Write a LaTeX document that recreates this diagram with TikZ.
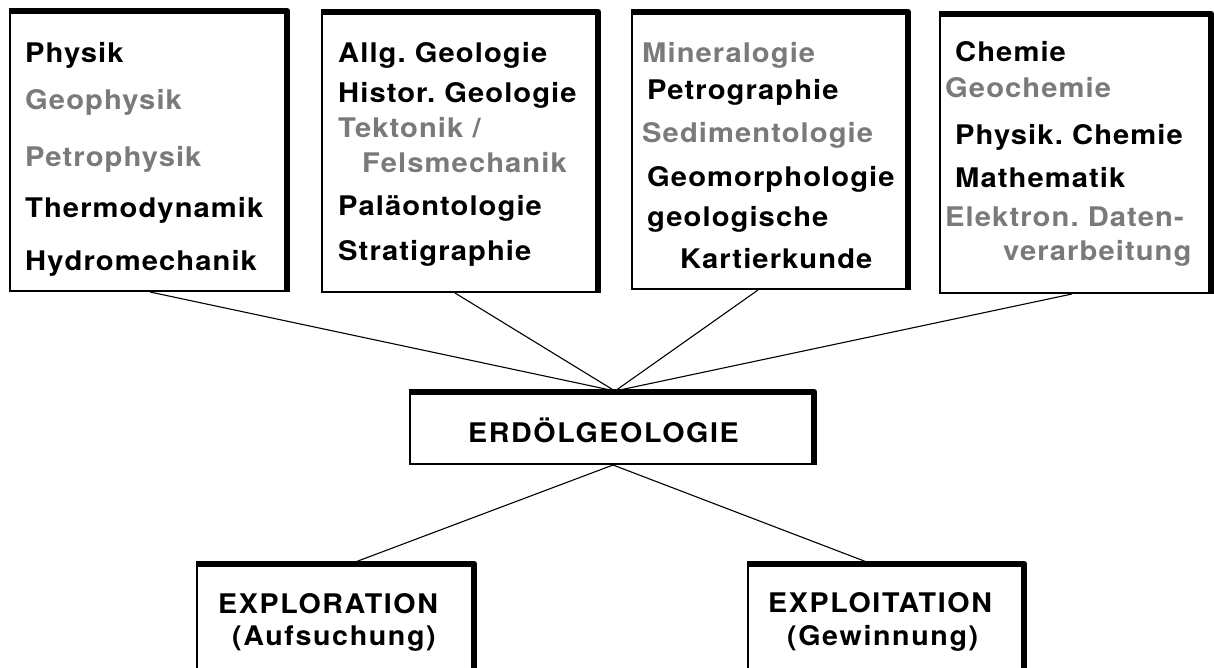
\documentclass[tikz,border=0pt]{standalone}
\usepackage{fontspec}
\newfontfamily\labfont{TeX Gyre Heros}[FakeStretch=1.08, LetterSpace=4]
\newfontfamily\bigfont{TeX Gyre Heros}[FakeStretch=1.06, LetterSpace=6]
\definecolor{greytext}{RGB}{122,122,122}
\begin{document}
\begin{tikzpicture}[x=1pt,y=-1pt,
  lbl/.style={anchor=base west, inner sep=0pt, font=\labfont\bfseries\fontsize{27}{30}\selectfont},
  dark/.style={lbl, text=black},
  light/.style={lbl, text=greytext},
  big/.style={lbl, font=\bigfont\bfseries\fontsize{27}{30}\selectfont},
  frame/.style={draw, line width=2.2pt, fill=white, inner sep=0pt},
  thickedge/.style={line width=6.5pt, line join=round},
  conn/.style={line width=1.1pt}]
\useasboundingbox (0,0) rectangle (1214,668);
\clip (0,0) rectangle (1214,668);
% connection points
\coordinate (c1) at (150,292);
\coordinate (c2) at (455,293);
\coordinate (c3) at (758,290);
\coordinate (c4) at (1072,294);
\coordinate (hubT) at (615,391);
\coordinate (hubB) at (613,465);
\coordinate (e1) at (350,564);
\coordinate (e2) at (872,564);
\draw[conn] (c1) -- (hubT);
\draw[conn] (c2) -- (hubT);
\draw[conn] (c3) -- (hubT);
\draw[conn] (c4) -- (hubT);
\draw[conn] (hubB) -- (e1);
\draw[conn] (hubB) -- (e2);
% boxes
\node[frame, minimum width=276pt, minimum height=279pt] (box1) at (148,151.5) {};
\node[frame, minimum width=275pt, minimum height=279pt] (box2) at (459.5,152.5) {};
\node[frame, minimum width=275pt, minimum height=276pt] (box3) at (769.5,151) {};
\node[frame, minimum width=270pt, minimum height=278pt] (box4) at (1075,154) {};
\node[frame, minimum width=403pt, minimum height=71pt] (erd) at (611.5,428.5) {};
\node[frame, minimum width=276pt, minimum height=125pt] (expl) at (335,627.5) {};
\node[frame, minimum width=275pt, minimum height=125pt] (expt) at (885.5,627.5) {};
\foreach \b in {box1,box2,box3,box4,erd,expl,expt}
  \draw[thickedge] (\b.north west) -- (\b.north east) -- (\b.south east);
% box 1
\node[dark]  (t11) at (25,63)  {Physik};
\node[light] (t12) at (25,110) {Geophysik};
\node[light] (t13) at (25,167) {Petrophysik};
\node[dark]  (t14) at (25,218) {Thermodynamik};
\node[dark]  (t15) at (25,270) {Hydromechanik};
% box 2
\node[dark]  (t21) at (338,63)  {Allg.\ Geologie};
\node[dark]  (t22) at (338,103) {Histor.\ Geologie};
\node[light] (t23) at (338,138) {Tektonik /};
\node[light] (t24) at (362,173) {Felsmechanik};
\node[dark]  (t25) at (338,215) {Paläontologie};
\node[dark]  (t26) at (338,260) {Stratigraphie};
% box 3
\node[light] (t31) at (642,63)  {Mineralogie};
\node[dark]  (t32) at (647,100) {Petrographie};
\node[light] (t33) at (642,143) {Sedimentologie};
\node[dark]  (t34) at (647,187) {Geomorphologie};
\node[dark]  (t35) at (647,227) {geologische};
\node[dark]  (t36) at (680,268) {Kartierkunde};
% box 4
\node[dark]  (t41) at (955,62)  {Chemie};
\node[light] (t42) at (945,98)  {Geochemie};
\node[dark]  (t43) at (955,145) {Physik.\ Chemie};
\node[dark]  (t44) at (955,188) {Mathematik};
\node[light] (t45) at (945,227) {Elektron.\ Daten-};
\node[light] (t46) at (1003,260) {verarbeitung};
% centre and bottom
\node[big] (terd) at (468,442) {ERDÖLGEOLOGIE};
\node[big] (tx1) at (218,613) {EXPLORATION};
\node[big] (tx2) at (232,645) {(Aufsuchung)};
\node[big] (ty1) at (768,612) {EXPLOITATION};
\node[big] (ty2) at (787,645) {(Gewinnung)};
\end{tikzpicture}
\end{document}
